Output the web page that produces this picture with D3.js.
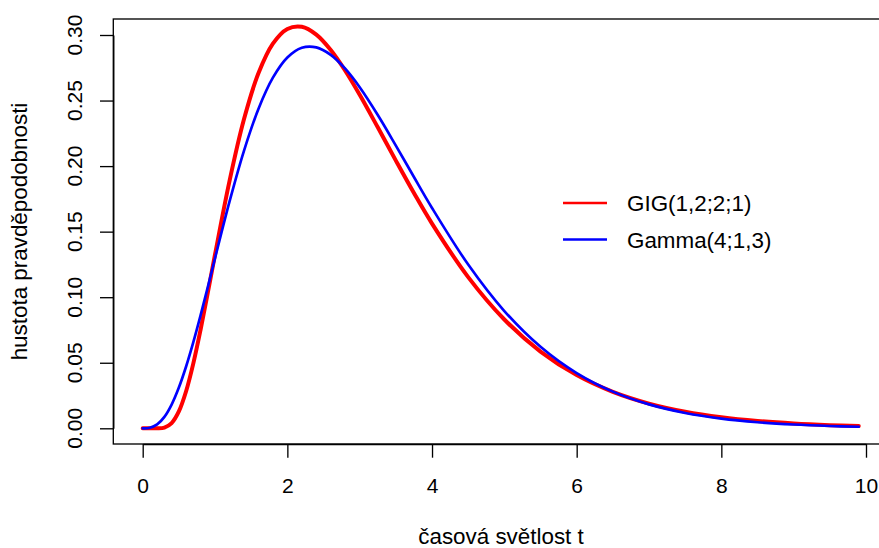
<!DOCTYPE html>
<html>
<head>
<meta charset="utf-8">
<script src="https://cdn.jsdelivr.net/npm/d3@7"></script>
<style>
  html, body { margin: 0; padding: 0; background: #ffffff; }
  svg { display: block; }
  text { font-family: "Liberation Sans", Arial, Helvetica, sans-serif; fill: #000; }
</style>
</head>
<body>
<svg id="chart" width="879" height="548"></svg>
<script>
// ---- data ----
const tValues = [0, 0.1, 0.2, 0.3, 0.4, 0.5, 0.6, 0.7, 0.8, 0.9, 1.0,
  1.2, 1.4, 1.6, 1.8, 2.0, 2.2, 2.4, 2.6, 2.8, 3.0, 3.25, 3.5, 3.75, 4.0,
  4.5, 5.0, 5.5, 6.0, 6.5, 7.0, 7.5, 8.0, 8.5, 9.0, 9.5, 9.9];
const gigValues = [0, 0, 0.0000143, 0.000592, 0.004007, 0.012877, 0.02826, 0.04953, 0.07517, 0.1034, 0.13258,
  0.18856, 0.23568, 0.27077, 0.29338, 0.30462, 0.30624, 0.30024, 0.2885, 0.27273, 0.2544, 0.22958, 0.20421, 0.17948, 0.15615,
  0.11533, 0.08299, 0.05852, 0.04061, 0.02782, 0.01886, 0.01266, 0.008435, 0.005582, 0.003675, 0.002407, 0.00171];
const gammaValues = [0, 0.000418, 0.002936, 0.008703, 0.01811, 0.03106, 0.04713, 0.06572, 0.08615, 0.10771, 0.12973,
  0.17285, 0.21164, 0.24359, 0.26743, 0.28284, 0.29028, 0.29059, 0.28488, 0.2743, 0.26016, 0.23897, 0.21567, 0.19168, 0.16808,
  0.12493, 0.08946, 0.06216, 0.04213, 0.02796, 0.01823, 0.01171, 0.007416, 0.004645, 0.002878, 0.001767, 0.001189];
const seriesNames = ["GIG(1,2;2;1)", "Gamma(4;1,3)"];
const seriesColors = ["#ff0000", "#0000ff"];
const xTicks = [0, 2, 4, 6, 8, 10];
const yTicks = [0, 0.05, 0.10, 0.15, 0.20, 0.25, 0.30];
const yTickLabels = ["0.00", "0.05", "0.10", "0.15", "0.20", "0.25", "0.30"];
const xTitle = "časová světlost t";
const yTitle = "hustota pravděpodobnosti";

// ---- layout ----
const FS = 21;      // tick labels
const FS2 = 22.4;   // titles and legend
const box = { left: 113.3, top: 19, right: 906, bottom: 444 };
const x = d3.scaleLinear().domain([0, 10]).range([142.7, 866]);
const y = d3.scaleLinear().domain([0, 0.3]).range([428.3, 35]);

const svg = d3.select("#chart");

// plot box
svg.append("rect")
  .attr("x", box.left).attr("y", box.top)
  .attr("width", box.right - box.left).attr("height", box.bottom - box.top)
  .attr("fill", "none").attr("stroke", "#000").attr("stroke-width", 1.33);

// x axis
const xAxis = d3.axisBottom(x).tickValues(xTicks).tickFormat(d3.format("d"))
  .tickSize(13.7).tickSizeOuter(0).tickPadding(20);
const gx = svg.append("g").attr("transform", `translate(0,${box.bottom})`).call(xAxis);
gx.select(".domain").attr("stroke", "#000").attr("stroke-width", 1.33);
gx.selectAll(".tick line").attr("stroke", "#000").attr("stroke-width", 1.33);
gx.selectAll(".tick text").style("font-size", FS + "px")
  .style("font-family", '"Liberation Sans", Arial, sans-serif').attr("fill", "#000");

// y axis
const yAxis = d3.axisLeft(y).tickValues(yTicks).tickFormat(() => "")
  .tickSize(13.3).tickSizeOuter(0);
const gy = svg.append("g").attr("transform", `translate(${box.left},0)`).call(yAxis);
gy.select(".domain").attr("stroke", "#000").attr("stroke-width", 1.33);
gy.selectAll(".tick line").attr("stroke", "#000").attr("stroke-width", 1.33);
gy.selectAll(".tick text").remove();
svg.append("g").selectAll("text").data(yTicks).join("text")
  .attr("transform", d => `translate(74.2,${y(d)}) rotate(-90)`)
  .attr("text-anchor", "middle").attr("dy", "0.36em")
  .style("font-size", FS + "px")
  .text((d, i) => yTickLabels[i]);

// axis titles
svg.append("text")
  .attr("x", 501).attr("y", 544)
  .attr("text-anchor", "middle").style("font-size", FS2 + "px")
  .text(xTitle);
svg.append("text")
  .attr("transform", `translate(27,${(box.top + box.bottom) / 2}) rotate(-90)`)
  .attr("text-anchor", "middle").style("font-size", FS2 + "px")
  .text(yTitle);

// curves
const line = d3.line().x(d => x(d[0])).y(d => y(d[1])).curve(d3.curveCatmullRom.alpha(0.5));
const gigData = tValues.map((t, i) => [t, gigValues[i]]);
const gammaData = tValues.map((t, i) => [t, gammaValues[i]]);
svg.append("path").datum(gigData).attr("d", line)
  .attr("fill", "none").attr("stroke", seriesColors[0]).attr("stroke-width", 4)
  .attr("stroke-linejoin", "round").attr("stroke-linecap", "round");
svg.append("path").datum(gammaData).attr("d", line)
  .attr("fill", "none").attr("stroke", seriesColors[1]).attr("stroke-width", 2.67)
  .attr("stroke-linejoin", "round").attr("stroke-linecap", "round");

// legend
const legendRows = [203, 239.5];
const lg = svg.append("g");
seriesNames.forEach((name, i) => {
  lg.append("line").attr("x1", 563).attr("x2", 607)
    .attr("y1", legendRows[i]).attr("y2", legendRows[i])
    .attr("stroke", seriesColors[i]).attr("stroke-width", 2.67);
  lg.append("text").attr("x", 627).attr("y", legendRows[i]).attr("dy", "0.36em")
    .style("font-size", FS2 + "px").text(name);
});
</script>
</body>
</html>
